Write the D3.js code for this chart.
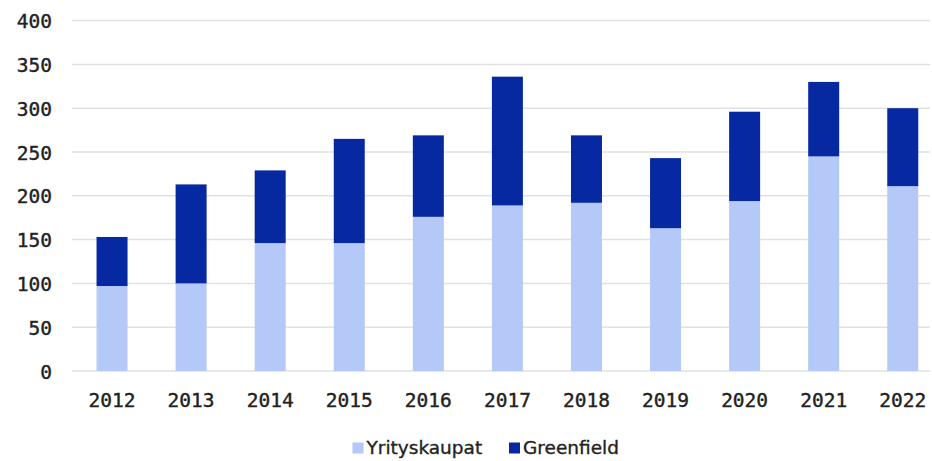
<!DOCTYPE html>
<html>
<head>
<meta charset="utf-8">
<script src="https://cdn.jsdelivr.net/npm/d3@7"></script>
<style>
  html, body { margin: 0; padding: 0; background: #fff; }
  svg { display: block; }
</style>
</head>
<body>
<svg id="chart" width="932" height="461"></svg>
<script>
const years = ["2012","2013","2014","2015","2016","2017","2018","2019","2020","2021","2022"];
const yrityskaupat = [97, 100, 146, 146, 176, 189, 192, 163, 194, 245, 211];
const greenfield   = [56, 113, 83, 119, 93, 147, 77, 80, 102, 85, 89];
const seriesNames = ["Yrityskaupat", "Greenfield"];
const seriesColors = ["#b4c9f7", "#0628a0"];
const yTicks = [0, 50, 100, 150, 200, 250, 300, 350, 400];

const svg = d3.select("#chart");
const numFont = "'DejaVu Sans Mono', monospace";
const txtFont = "'DejaVu Sans', sans-serif";

const x = d3.scaleBand().domain(years).range([72.5, 942.3])
  .paddingInner(0.608).paddingOuter(0.304);
const y = d3.scaleLinear().domain([0, 400]).range([371, 20.6]);

// gridlines
svg.append("g").selectAll("line").data(yTicks).join("line")
  .attr("x1", 72).attr("x2", 930)
  .attr("y1", d => y(d)).attr("y2", d => y(d))
  .attr("stroke", "#e1e1e3").attr("stroke-width", 1.5);

// stacked data
const table = years.map((yr, i) => ({ year: yr, Yrityskaupat: yrityskaupat[i], Greenfield: greenfield[i] }));
const stack = d3.stack().keys(seriesNames)(table);

svg.append("g").selectAll("g").data(stack).join("g")
  .attr("fill", (d, i) => seriesColors[i])
  .selectAll("rect").data(d => d).join("rect")
  .attr("x", d => x(d.data.year))
  .attr("width", x.bandwidth())
  .attr("y", d => y(d[1]))
  .attr("height", d => y(d[0]) - y(d[1]));

// y axis labels
const yAxis = d3.axisLeft(y).tickValues(yTicks).tickSize(0).tickPadding(0);
const gy = svg.append("g").attr("transform", "translate(52,0)").call(yAxis);
gy.select(".domain").remove();
gy.selectAll("text").attr("font-family", numFont).attr("font-size", 19.5)
  .attr("fill", "#222").attr("stroke", "#222").attr("stroke-width", 0.4)
  .attr("dy", "0.36em");

// x axis labels
const xAxis = d3.axisBottom(x).tickSize(0).tickPadding(0);
const gx = svg.append("g").attr("transform", "translate(0,400)").call(xAxis);
gx.select(".domain").remove();
gx.selectAll("text").attr("font-family", numFont).attr("font-size", 19.5)
  .attr("fill", "#222").attr("stroke", "#222").attr("stroke-width", 0.4)
  .attr("dy", "0.36em");

// legend
const legendItems = [
  { name: seriesNames[0], color: seriesColors[0], x: 352.5 },
  { name: seriesNames[1], color: seriesColors[1], x: 509 }
];
const lg = svg.append("g").selectAll("g").data(legendItems).join("g")
  .attr("transform", d => `translate(${d.x},442.5)`);
lg.append("rect").attr("width", 11).attr("height", 11).attr("fill", d => d.color);
lg.append("text").attr("x", 14).attr("y", 11)
  .attr("font-family", txtFont).attr("font-size", 18.5).attr("fill", "#222")
  .attr("stroke", "#222").attr("stroke-width", 0.35)
  .text(d => d.name);
</script>
</body>
</html>
